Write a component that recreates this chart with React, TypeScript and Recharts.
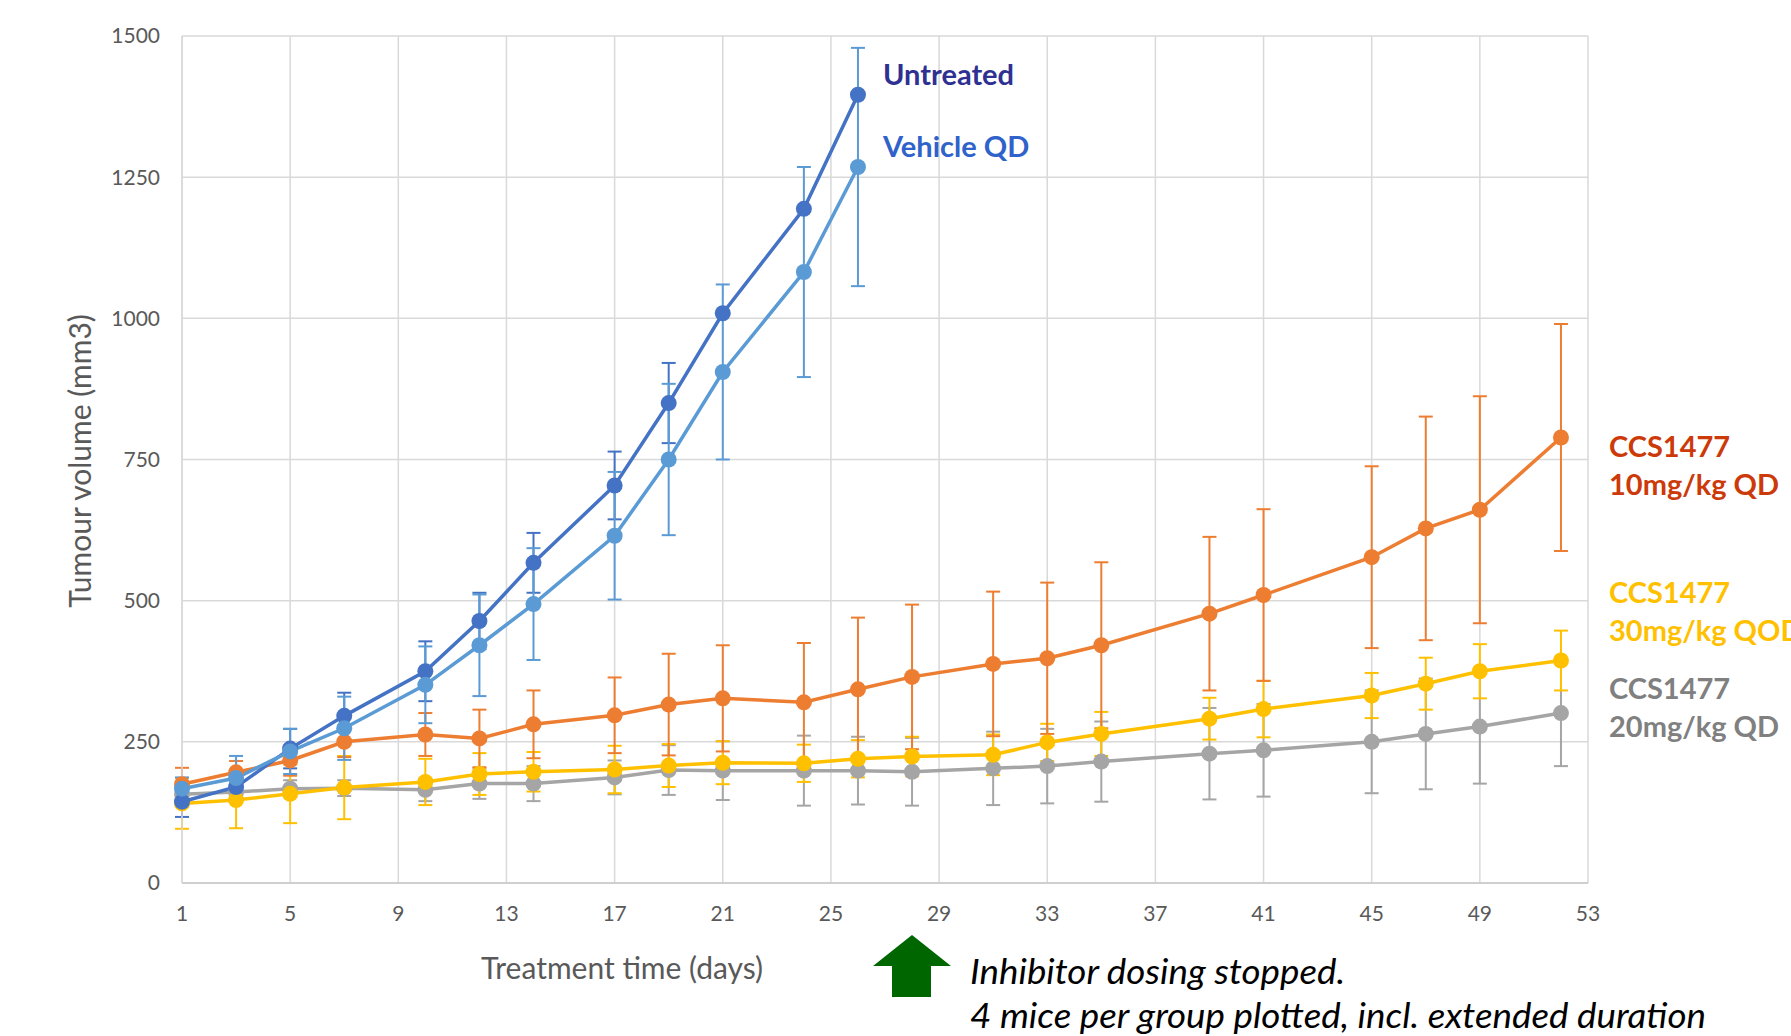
import { LineChart, Line, XAxis, YAxis, CartesianGrid, ErrorBar } from "recharts";

const days = [1, 3, 5, 7, 10, 12, 14, 17, 19, 21, 24, 26, 28, 31, 33, 35, 39, 41, 45, 47, 49, 52];

const untreated = [144, 170, 238, 296, 375, 464, 567, 704, 850, 1009, 1194, 1396];
const untreatedErr: (number | null)[] = [27, 20, 35, 41, 53, 50, 53, 60, 71, null, null, null];

const vehicle = [167, 186, 233, 274, 351, 421, 494, 615, 750, 905, 1082, 1268];
const vehicleErr = [20, 39, 40, 56, 68, 90, 99, 113, 134, 155, 186, 211];

const dose10 = [175, 196, 217, 250, 263, 256, 281, 297, 316, 327, 320, 343, 365, 388, 398, 421, 477, 510, 577, 628, 661, 789];
const dose10Err = [29, 20, 27, 27, 38, 51, 60, 67, 90, 94, 105, 127, 128, 128, 134, 147, 136, 152, 161, 198, 201, 201];

const dose30 = [141, 147, 158, 169, 179, 193, 197, 201, 208, 213, 212, 220, 224, 227, 249, 264, 291, 308, 332, 353, 375, 394];
const dose30Err = [45, 50, 52, 56, 41, 37, 35, 42, 38, 38, 33, 33, 35, 36, 33, 39, 37, 50, 40, 46, 48, 53];

const dose20 = [157, 161, 167, 168, 165, 176, 176, 187, 200, 199, 199, 199, 197, 203, 207, 215, 229, 235, 250, 264, 277, 301];
const dose20Err = [15, 15, 15, 14, 20, 27, 31, 30, 44, 52, 62, 60, 60, 65, 66, 71, 81, 82, 91, 98, 101, 94];

const xTicks = [1, 5, 9, 13, 17, 21, 25, 29, 33, 37, 41, 45, 49, 53];
const yTicks = [0, 250, 500, 750, 1000, 1250, 1500];

const toRows = (vals: number[], errs: (number | null)[]) =>
  vals.map((v, i) => ({ day: days[i], value: v, err: errs[i] }));

const series = [
  { name: "CCS1477 20mg/kg QD", rows: toRows(dose20, dose20Err), color: "#A5A5A5" },
  { name: "CCS1477 30mg/kg QOD", rows: toRows(dose30, dose30Err), color: "#FFC000" },
  { name: "CCS1477 10mg/kg QD", rows: toRows(dose10, dose10Err), color: "#ED7D31" },
  { name: "Untreated", rows: toRows(untreated, untreatedErr), color: "#4472C4" },
  { name: "Vehicle QD", rows: toRows(vehicle, vehicleErr), color: "#5B9BD5" },
];

const FONT = "Lato, 'Open Sans', sans-serif";
const W = 1791;
const H = 1036;

export default function App() {
  const tick = { fill: "#595959", fontSize: 21, fontFamily: FONT };
  return (
    <div style={{ position: "absolute", left: 0, top: 0, width: W, height: H, background: "#fff" }}>
      <LineChart width={W} height={H} margin={{ top: 36, right: 203, bottom: 0, left: 0 }}>
        <CartesianGrid stroke="#D9D9D9" strokeWidth={1.5} />
        <XAxis
          type="number"
          dataKey="day"
          domain={[1, 53]}
          ticks={xTicks}
          allowDuplicatedCategory={false}
          height={153}
          tickSize={0}
          tickMargin={23}
          tick={tick}
          axisLine={{ stroke: "#C8C8C8", strokeWidth: 1.5 }}
        />
        <YAxis
          type="number"
          domain={[0, 1500]}
          ticks={yTicks}
          width={182}
          tickSize={0}
          tickMargin={22}
          tick={tick}
          axisLine={{ stroke: "#D9D9D9", strokeWidth: 1.5 }}
        />
        {series.map((s) => (
          <Line
            key={s.name}
            data={s.rows}
            dataKey="value"
            name={s.name}
            stroke={s.color}
            strokeWidth={3.5}
            dot={{ r: 8, fill: s.color, stroke: s.color, strokeWidth: 0 }}
            isAnimationActive={false}
          >
            <ErrorBar dataKey="err" direction="y" width={7} stroke={s.color} strokeWidth={2} />
          </Line>
        ))}
      </LineChart>
      <svg
        width={W}
        height={H}
        style={{ position: "absolute", left: 0, top: 0, pointerEvents: "none" }}
        fontFamily={FONT}
      >
        <text x={83} y={461} transform="rotate(-90 83 461)" textAnchor="middle" dominantBaseline="middle" fontSize={30} fill="#595959">
          Tumour volume (mm3)
        </text>
        <text x={622} y={979} textAnchor="middle" fontSize={30} fill="#595959">
          Treatment time (days)
        </text>

        <g fontWeight="bold" fontSize={29}>
          <text x={883} y={85} fill="#2E3192">Untreated</text>
          <text x={883} y={157} fill="#2F62CA">Vehicle QD</text>
          <text x={1609} y={457} fill="#CC3A0A">CCS1477</text>
          <text x={1609} y={495} fill="#CC3A0A">10mg/kg QD</text>
          <text x={1609} y={603} fill="#FFC000">CCS1477</text>
          <text x={1609} y={641} fill="#FFC000">30mg/kg QOD</text>
          <text x={1609} y={699} fill="#808080">CCS1477</text>
          <text x={1609} y={737} fill="#808080">20mg/kg QD</text>
        </g>

        <polygon
          points="912,935 951,966 931,966 931,997 892,997 892,966 873,966"
          fill="#006600"
        />
        <g fontStyle="italic" fontSize={34} fill="#000">
          <text x={970} y={984} textLength={375} lengthAdjust="spacingAndGlyphs">Inhibitor dosing stopped.</text>
          <text x={970} y={1028} textLength={736} lengthAdjust="spacingAndGlyphs">4 mice per group plotted, incl. extended duration</text>
        </g>
      </svg>
    </div>
  );
}
